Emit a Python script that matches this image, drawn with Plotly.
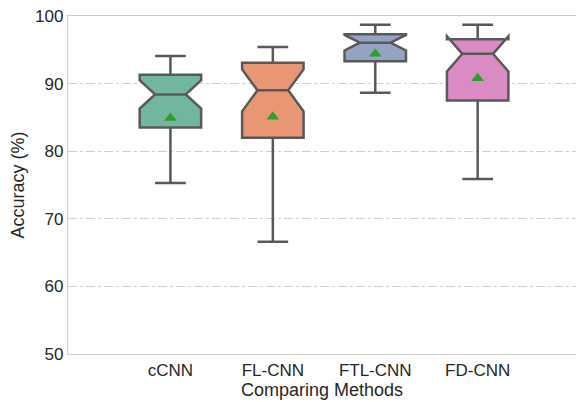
import plotly.graph_objects as go

methods = ["cCNN", "FL-CNN", "FTL-CNN", "FD-CNN"]
q1 = [83.5, 82.0, 93.3, 87.5]
median = [88.4, 89.0, 96.05, 94.4]
q3 = [91.3, 93.1, 97.3, 96.55]
lower = [75.3, 66.6, 88.65, 75.9]
upper = [94.1, 95.4, 98.7, 98.7]
means = [84.9, 85.1, 94.4, 90.8]
notch = [2.1, 3.1, 1.15, 2.6]
colors = ["#72b6a1", "#e99675", "#95a3c3", "#da8bc3"]

FONT = "Liberation Sans, Arial, sans-serif"
TXT = "#262626"
LINE = "#595959"

fig = go.Figure()
for i, m in enumerate(methods):
    fig.add_trace(go.Box(
        x=[m], q1=[q1[i]], median=[median[i]], q3=[q3[i]],
        lowerfence=[lower[i]], upperfence=[upper[i]], notchspan=[notch[i]],
        notched=True, notchwidth=0.25, whiskerwidth=0.5, width=0.6,
        fillcolor=colors[i], line=dict(color=LINE, width=2.5),
        boxpoints=False, showlegend=False, hoverinfo="skip",
    ))
fig.add_trace(go.Scatter(
    x=methods, y=means, mode="markers",
    marker=dict(symbol="triangle-up", size=11, color="#2ca02c", line=dict(width=0)),
    showlegend=False,
))

fig.update_layout(
    width=576, height=402,
    margin=dict(l=68, r=0, t=16, b=48),
    plot_bgcolor="white", paper_bgcolor="white",
    boxmode="overlay",
    font=dict(family=FONT, color=TXT, size=17),
)
fig.update_xaxes(
    type="category", categoryorder="array", categoryarray=methods,
    range=[-1.0, 3.96],
    showgrid=False, zeroline=False,
    showline=True, linecolor="#cccccc", linewidth=1.2, mirror=True,
    ticks="", tickfont=dict(size=17, color=TXT),
    title=dict(text="Comparing Methods", font=dict(size=18, color=TXT), standoff=3),
)
fig.update_yaxes(
    range=[50, 100], tickvals=[50, 60, 70, 80, 90, 100],
    showgrid=True, gridcolor="#cfcfcf", griddash="dashdot", gridwidth=1,
    zeroline=False, showline=True, linecolor="#cccccc", linewidth=1.2,
    ticks="", tickfont=dict(size=17, color=TXT),
    title=dict(text="Accuracy (%)", font=dict(size=18, color=TXT), standoff=5),
)

fig.write_html(
    "out.html",
    config={"displayModeBar": False, "staticPlot": True},
    post_script="document.body.style.margin='0';document.body.style.overflow='hidden';",
)
